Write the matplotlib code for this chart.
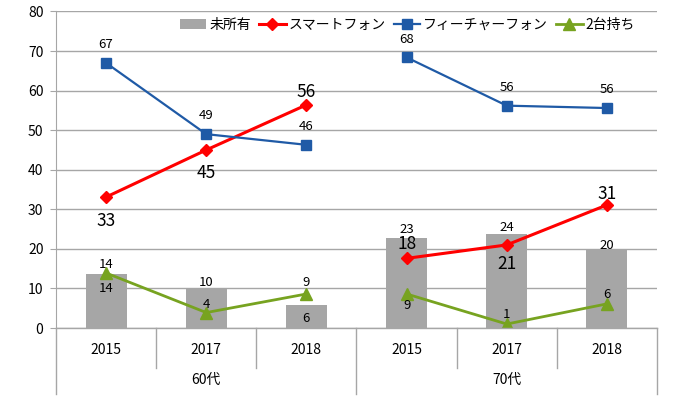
import matplotlib
matplotlib.use("Agg")
import matplotlib.pyplot as plt
import matplotlib.transforms as mtransforms

plt.rcParams["font.family"] = ["Noto Sans CJK JP", "DejaVu Sans"]

# data (percent)
groups = ["60代", "70代"]
years = ["2015", "2017", "2018", "2015", "2017", "2018"]
no_phone = [13.7, 9.9, 5.9, 22.7, 23.7, 19.6]
smartphone = [33.1, 45.0, 56.4, 17.6, 21.0, 31.1]
feature_phone = [67.0, 49.0, 46.3, 68.4, 56.2, 55.6]
both = [13.9, 3.9, 8.6, 8.6, 1.0, 6.1]

# label offsets in points (positive = above the point)
off_bar = [-10.5, 4.5, -10, 6.5, 5, 3.8]
off_smart = [-17, -16.5, 9, 10, -13.5, 8]
off_feature = [13.5, 13.5, 13.5, 13, 13, 13]
off_both = [6, 5.5, 8, -8.5, 7, 6.5]

GRID = "#a6a6a6"
BAR = "#a6a6a6"
RED = "#ff0000"
BLUE = "#1f5aa6"
GREEN = "#77a320"

fig = plt.figure(figsize=(7, 3.99), dpi=100)
ax = fig.add_axes([56 / 700, 1 - 328 / 399, 601 / 700, 316.5 / 399])

x = list(range(len(years)))

ax.bar(x, no_phone, width=0.41, color=BAR, label="未所有", zorder=2)

series = [
    (smartphone, RED, "D", 6.5, 2.2, "スマートフォン"),
    (feature_phone, BLUE, "s", 7.5, 1.6, "フィーチャーフォン"),
    (both, GREEN, "^", 8.5, 2.0, "2台持ち"),
]
for vals, col, mk, ms, lw, name in series:
    for g in range(len(groups)):
        sl = slice(g * 3, g * 3 + 3)
        ax.plot(x[sl], vals[sl], color=col, marker=mk, markersize=ms,
                linewidth=lw, label=name if g == 0 else None, zorder=3)


def put_labels(vals, offs, size):
    for xi, v, o in zip(x, vals, offs):
        ax.annotate(f"{v:.0f}", (xi, v), xytext=(0, o), textcoords="offset points",
                    ha="center", va="center", fontsize=size, zorder=5)


put_labels(no_phone, off_bar, 9.5)
put_labels(smartphone, off_smart, 12.5)
put_labels(feature_phone, off_feature, 9.5)
put_labels(both, off_both, 9.5)

ax.set_xlim(-0.5, len(years) - 0.5)
ax.set_ylim(0, 80)
ax.set_yticks(range(0, 81, 10))
ax.yaxis.grid(True, color=GRID, linewidth=1.0)
ax.set_axisbelow(True)
for s in ["top", "right", "bottom"]:
    ax.spines[s].set_visible(False)
ax.spines["left"].set_color(GRID)
ax.tick_params(axis="y", length=4, color=GRID, labelsize=10, pad=5)
ax.set_xticks(x)
ax.set_xticklabels(years, fontsize=10)
ax.tick_params(axis="x", length=0, pad=11)

# category axis: baseline, separators and group labels
trans = mtransforms.blended_transform_factory(ax.transData, ax.transAxes)
ax.plot([-0.5, len(years) - 0.5], [0, 0], color=GRID, lw=1.0, transform=trans,
        clip_on=False, zorder=4)
for b in [0.5, 1.5, 3.5, 4.5]:
    ax.plot([b, b], [0, -0.125], color=GRID, lw=1.0, transform=trans, clip_on=False)
for b in [-0.5, 2.5, 5.5]:
    ax.plot([b, b], [0, -0.21], color=GRID, lw=1.0, transform=trans, clip_on=False)
for g, name in enumerate(groups):
    ax.text(g * 3 + 1, -0.165, name, transform=trans, ha="center", va="center",
            fontsize=10)

# legend: bar first, then the three lines
handles, labels = ax.get_legend_handles_labels()
order = [labels.index(n) for n in ["未所有", "スマートフォン", "フィーチャーフォン", "2台持ち"]]
fig.legend([handles[i] for i in order], [labels[i] for i in order],
           loc="center left", bbox_to_anchor=(180 / 700, 1 - 25 / 399),
           ncol=4, frameon=False, fontsize=10, handlelength=1.9,
           handletextpad=0.2, columnspacing=0.6, borderpad=0, borderaxespad=0)

fig.savefig("out.png", dpi=100)
